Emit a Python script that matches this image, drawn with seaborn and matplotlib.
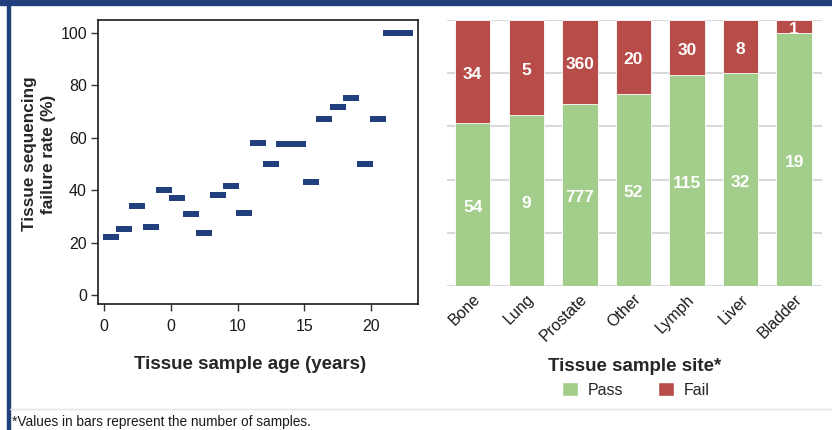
import pandas as pd
import numpy as np
import seaborn as sns
import matplotlib.pyplot as plt
from matplotlib.patches import Patch, Rectangle
from matplotlib.lines import Line2D

# Left panel: failure rate vs tissue sample age
sample_age = [0.5, 1.5, 2.5, 3.5, 4.5, 5.5, 6.5, 7.5, 8.5, 9.5, 10.5, 11.5,
              12.5, 13.5, 14.5, 15.5, 16.5, 17.5, 18.5, 19.5, 20.5, 21.5, 22.5]
failure_rate = [22, 25, 34, 26, 40, 37, 31, 23.7, 38, 41.5, 31.3, 58,
                50, 57.5, 57.5, 43, 67, 71.5, 75, 50, 67, 100, 100]
age_ticks = [0, 5, 10, 15, 20]
age_tick_labels = ['0', '0', '10', '15', '20']
rate_ticks = [0, 20, 40, 60, 80, 100]

# Right panel: pass / fail counts per sample site
sites = ['Bone', 'Lung', 'Prostate', 'Other', 'Lymph', 'Liver', 'Bladder']
n_pass = [54, 9, 777, 52, 115, 32, 19]
n_fail = [34, 5, 360, 20, 30, 8, 1]

navy = '#213f7d'
green = '#a3cd8a'
red = '#b84c49'

sns.set_style('ticks')
plt.rcParams['font.family'] = ['Liberation Sans', 'DejaVu Sans']

W, H = 832, 430
fig = plt.figure(figsize=(W / 100, H / 100), dpi=100)


def px(x0, y0, x1, y1):
    # pixel box -> figure fraction
    return [x0 / W, 1 - y1 / H, (x1 - x0) / W, (y1 - y0) / H]


# ---- left scatter ----
ax1 = fig.add_axes(px(98, 20, 418, 304))
age_df = pd.DataFrame({'age': sample_age, 'rate': failure_rate})
dash = [(-2.4, -1), (2.4, -1), (2.4, 1), (-2.4, 1), (-2.4, -1)]
sns.scatterplot(data=age_df, x='age', y='rate', marker=dash, s=121,
                color=navy, linewidth=0, ax=ax1)
ax1.set_xlim(-0.45, 23.5)
ax1.set_ylim(-3.4, 104.8)
ax1.set_xticks(age_ticks)
ax1.set_xticklabels(age_tick_labels)
ax1.set_yticks(rate_ticks)
for s in ax1.spines.values():
    s.set_color('#1a1a1a')
    s.set_linewidth(1.2)
ax1.tick_params(axis='both', direction='out', length=5, width=1,
                color='#333333', labelsize=11.5, labelcolor='#1a1a1a')
ax1.tick_params(axis='x', pad=6)
ax1.tick_params(axis='y', pad=3)
ax1.set_xlabel('Tissue sample age (years)', fontsize=13.5, fontweight='bold')
ax1.xaxis.set_label_coords(0.475, -0.212)
ax1.xaxis.label.set_va('center')
ax1.set_ylabel('Tissue sequencing\nfailure rate (%)', fontsize=12.3,
               fontweight='bold', linespacing=1.35)
ax1.yaxis.set_label_coords(-0.132, 0.528)

# ---- right stacked bars ----
site_df = pd.DataFrame({'site': sites, 'pass': n_pass, 'fail': n_fail})
site_df['total'] = site_df['pass'] + site_df['fail']
site_df['pass_pct'] = 100 * site_df['pass'] / site_df['total']
site_df['all_pct'] = 100.0

ax2 = fig.add_axes(px(447, 20, 822, 286))
sns.barplot(data=site_df, x='site', y='all_pct', color=red, saturation=1,
            width=0.66, edgecolor='white', linewidth=0.6, ax=ax2)
sns.barplot(data=site_df, x='site', y='pass_pct', color=green, saturation=1,
            width=0.66, edgecolor='white', linewidth=0.6, ax=ax2)
for i, row in site_df.iterrows():
    ax2.text(i, row['pass_pct'] / 2 - 1, str(row['pass']), ha='center',
             va='center', color='white', fontsize=12.5, fontweight='bold')
    ax2.text(i, (row['pass_pct'] + 100) / 2 - 1, str(row['fail']), ha='center',
             va='center', color='white', fontsize=12.5, fontweight='bold')

ax2.set_xlim(-0.48, 6.52)
ax2.set_ylim(0, 100)
ax2.set_yticks(rate_ticks)
ax2.set_yticklabels([])
ax2.set_axisbelow(True)
ax2.yaxis.grid(True, color='#d9d9d9', linewidth=1.5)
sns.despine(ax=ax2, left=True, bottom=True)
ax2.tick_params(axis='both', length=0)
ax2.tick_params(axis='x', pad=4)
ax2.set_xticks(range(len(sites)))
ax2.set_xticklabels(sites, rotation=45, ha='right', rotation_mode='anchor',
                    fontsize=11.5, color='#1a1a1a')
ax2.set_ylabel('')
ax2.set_xlabel('Tissue sample site*', fontsize=13.5, fontweight='bold',
               labelpad=10)

handles = [Patch(facecolor=green, label='Pass'), Patch(facecolor=red, label='Fail')]
fig.legend(handles=handles, loc='center', bbox_to_anchor=(636 / W, 1 - 390 / H),
           ncol=2, frameon=False, fontsize=11.5, handlelength=1.0,
           handleheight=1.0, columnspacing=2.2, handletextpad=0.6)

# frame decoration and footnote
fig.add_artist(Rectangle((0, 1 - 5 / H), 1, 5 / H, color=navy,
                         transform=fig.transFigure))
fig.add_artist(Rectangle((7 / W, 0), 3 / W, 1, color=navy,
                         transform=fig.transFigure))
fig.add_artist(Line2D([10 / W, 1], [1 - 409 / H] * 2, color='#e2e2ec',
                      linewidth=1, transform=fig.transFigure))
fig.text(12 / W, 1 - 422 / H, '*Values in bars represent the number of samples.',
         fontsize=9.8, va='center', ha='left', color='#1a1a1a')

fig.savefig('out.png', dpi=100)
